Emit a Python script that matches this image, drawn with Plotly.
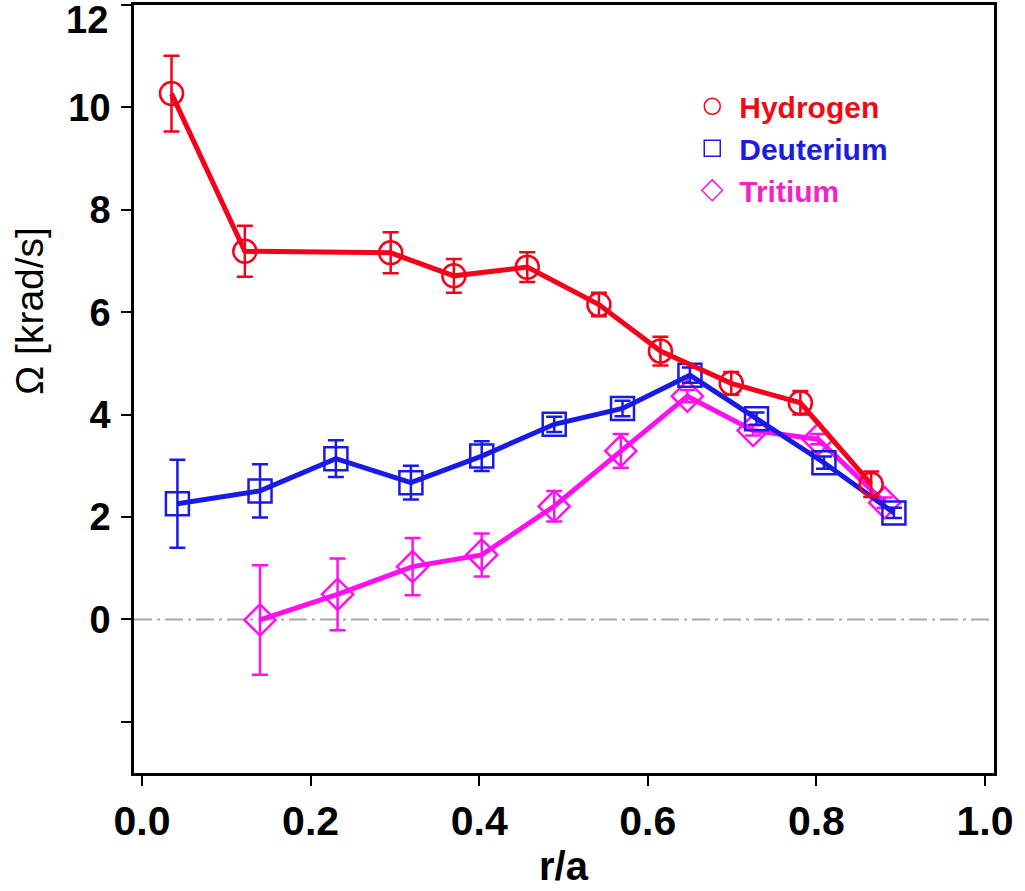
import plotly.graph_objects as go

# values
h_x = [0.035, 0.122, 0.295, 0.370, 0.457, 0.542, 0.615, 0.699, 0.781, 0.865]
h_y = [10.27, 7.19, 7.16, 6.71, 6.88, 6.15, 5.24, 4.61, 4.23, 2.64]
h_err = [0.74, 0.50, 0.40, 0.33, 0.29, 0.23, 0.28, 0.22, 0.23, 0.25]

d_x = [0.042, 0.140, 0.230, 0.319, 0.403, 0.489, 0.570, 0.650, 0.729, 0.809, 0.892]
d_y = [2.26, 2.51, 3.14, 2.67, 3.19, 3.81, 4.12, 4.77, 3.92, 3.06, 2.08]
d_err = [0.86, 0.52, 0.36, 0.33, 0.29, 0.15, 0.15, 0.15, 0.12, 0.12, 0.10]

t_x = [0.140, 0.232, 0.321, 0.403, 0.489, 0.568, 0.647, 0.725, 0.802, 0.881]
t_y = [-0.01, 0.49, 1.03, 1.26, 2.21, 3.29, 4.36, 3.69, 3.52, 2.28]
t_err = [1.07, 0.70, 0.56, 0.42, 0.30, 0.33, 0.12, 0.10, 0.10, 0.10]

y_ticks = [-2, 0, 2, 4, 6, 8, 10, 12]
# the top label sits lower than its tick in the original, drawn separately below
y_labels = ["", "0", "2", "4", "6", "8", "10", ""]
top_label = "12"
x_ticks = [0.0, 0.2, 0.4, 0.6, 0.8, 1.0]
x_labels = ["0.0", "0.2", "0.4", "0.6", "0.8", "1.0"]

RED = "#f5001a"
BLUE = "#1a1ae6"
MAGENTA = "#ff10f0"
FONT = "Liberation Sans"


def series(x, y, err, color, symbol, size):
  return go.Scatter(
    x=x, y=y, mode="lines+markers", showlegend=False,
    line=dict(color=color, width=5),
    marker=dict(symbol=symbol, size=size, color=color, line=dict(color=color, width=2.5)),
    error_y=dict(type="data", array=err, color=color, thickness=2.5, width=8),
  )


fig = go.Figure()

# draw order: tritium under deuterium under hydrogen
fig.add_trace(series(t_x, t_y, t_err, MAGENTA, "diamond-open", 24))
fig.add_trace(series(d_x, d_y, d_err, BLUE, "square-open", 23))
fig.add_trace(series(h_x, h_y, h_err, RED, "circle-open", 23))

# legend entries, markers only, text coloured like the series
legend_items = [("Hydrogen", RED, "#f00a14", "circle-open"),
                ("Deuterium", BLUE, "#1c1ce0", "square-open"),
                ("Tritium", MAGENTA, "#f523c4", "diamond-open")]
for name, col, txt, sym in legend_items:
  fig.add_trace(go.Scatter(
    x=[None], y=[None], mode="markers",
    name="<span style='color:%s'>%s</span>" % (txt, name),
    marker=dict(symbol=sym, size=16, color=col, line=dict(color=col, width=1.5)),
  ))

# zero reference line
fig.add_shape(type="line", xref="paper", yref="y", x0=0, x1=1, y0=0, y1=0,
              line=dict(color="#a8a8a8", width=2, dash="18px,5px,3px,5px"), layer="below")

fig.update_xaxes(
  range=[-0.0095, 1.0107], tickvals=x_ticks, ticktext=x_labels,
  ticks="outside", ticklen=10, tickwidth=2, tickcolor="black",
  showline=True, linecolor="black", linewidth=2.5, mirror=True,
  showgrid=False, zeroline=False, ticklabeloverflow="allow", automargin=False,
  tickfont=dict(family=FONT, size=41, color="black", weight="bold"),
)
fig.update_yaxes(
  range=[-3, 12], tickvals=y_ticks, ticktext=y_labels,
  ticks="outside", ticklen=10, tickwidth=2, tickcolor="black",
  showline=True, linecolor="black", linewidth=2.5, mirror=True,
  showgrid=False, zeroline=False, ticklabeloverflow="allow", automargin=False,
  ticklabelstandoff=3,
  tickfont=dict(family=FONT, size=38, color="black", weight="bold"),
)

fig.add_annotation(text=top_label, xref="paper", yref="paper", x=-0.0279, y=0.9805,
                   showarrow=False, xanchor="right", yanchor="middle",
                   font=dict(family=FONT, size=38, color="black", weight="bold"))
fig.add_annotation(text="r/a", xref="paper", yref="paper", x=0.5, y=-0.121,
                   showarrow=False, xanchor="center", yanchor="middle",
                   font=dict(family=FONT, size=40, color="black", weight="bold"))
fig.add_annotation(text="Ω [krad/s]", xref="paper", yref="paper", x=-0.121, y=0.6016,
                   showarrow=False, textangle=-90, xanchor="center", yanchor="middle",
                   font=dict(family=FONT, size=39, color="black"))

fig.update_layout(
  width=1025, height=891,
  margin=dict(l=134, r=31, t=5, b=118),
  plot_bgcolor="white", paper_bgcolor="white",
  legend=dict(x=0.641, y=0.902, xanchor="left", yanchor="top",
              itemwidth=44,
              bgcolor="rgba(0,0,0,0)", borderwidth=0,
              font=dict(family=FONT, size=30, weight="bold")),
)

# drop the page's default body margin so the figure sits at the corner
fig.write_html("out.html", config={"displayModeBar": False},
               post_script="document.body.style.margin='0px';")
